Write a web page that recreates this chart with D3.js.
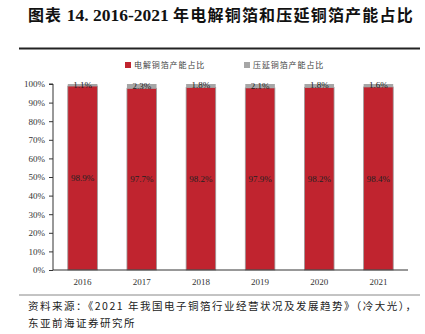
<!DOCTYPE html>
<html>
<head>
<meta charset="utf-8">
<script src="https://cdn.jsdelivr.net/npm/d3@7"></script>
<style>
  html, body { margin: 0; padding: 0; background: #fff; }
  svg { display: block; }
</style>
</head>
<body>
<svg id="chart" width="425" height="334"></svg>
<script>
// Capacity share data, 2016-2021
const years = ["2016", "2017", "2018", "2019", "2020", "2021"];
const electrolytic = [98.9, 97.7, 98.2, 97.9, 98.2, 98.4];
const rolled = [1.1, 2.3, 1.8, 2.1, 1.8, 1.6];
const seriesNames = ["电解铜箔产能占比", "压延铜箔产能占比"];
const yTicks = [0, 10, 20, 30, 40, 50, 60, 70, 80, 90, 100];

const RED = "#C0242F";
const GRAY = "#A6A6A6";
const serif = "'Liberation Serif', 'Times New Roman', serif";
const cjk = "'Noto Sans CJK SC', sans-serif";

const svg = d3.select("#chart");

// Title
const title = svg.append("text")
  .attr("x", 28).attr("y", 21)
  .attr("font-size", 16).attr("font-weight", "bold")
  .attr("fill", "#111");
title.append("tspan").attr("font-family", cjk).attr("letter-spacing", 1).text("图表 ");
title.append("tspan").attr("font-family", serif).attr("font-size", 17.5).text("14. 2016-2021 ");
title.append("tspan").attr("font-family", cjk).attr("letter-spacing", 1.2).text("年电解铜箔和压延铜箔产能占比");

// Rules above and below the chart
svg.append("line").attr("x1", 19).attr("x2", 420).attr("y1", 48.5).attr("y2", 48.5)
  .attr("stroke", "#222").attr("stroke-width", 2);
svg.append("line").attr("x1", 19).attr("x2", 420).attr("y1", 295).attr("y2", 295)
  .attr("stroke", "#888").attr("stroke-width", 1);

// Scales
const margin = { left: 53, right: 17, top: 84, bottom: 64 };
const x = d3.scaleBand().domain(years).range([margin.left, 408]).paddingInner(0.5).paddingOuter(0.25);
const y = d3.scaleLinear().domain([0, 100]).range([270, 84]);

// Stacked data
const rows = years.map((yr, i) => ({ year: yr, e: electrolytic[i], r: rolled[i] }));
const stack = d3.stack().keys(["e", "r"])(rows);
const colors = [RED, GRAY];

const g = svg.append("g");
stack.forEach((layer, li) => {
  g.selectAll(null).data(layer).enter().append("rect")
    .attr("x", d => x(d.data.year))
    .attr("width", x.bandwidth())
    .attr("y", d => y(d[1]))
    .attr("height", d => y(d[0]) - y(d[1]))
    .attr("fill", colors[li])
    .attr("stroke", "#9a9a9a")
    .attr("stroke-width", li === 0 ? 0.8 : 0);
});

// Value labels
g.selectAll(null).data(rows).enter().append("text")
  .attr("x", d => x(d.year) + x.bandwidth() / 2)
  .attr("y", d => y(d.e / 2))
  .attr("dy", "0.35em")
  .attr("text-anchor", "middle")
  .attr("font-family", serif).attr("font-size", 9).attr("fill", "#222")
  .text(d => d.e.toFixed(1) + "%");
g.selectAll(null).data(rows).enter().append("text")
  .attr("x", d => x(d.year) + x.bandwidth() / 2)
  .attr("y", d => y(d.e + d.r / 2))
  .attr("dy", "0.3em")
  .attr("text-anchor", "middle")
  .attr("font-family", serif).attr("font-size", 9).attr("fill", "#222")
  .text(d => d.r.toFixed(1) + "%");

// Y axis
const yAxis = d3.axisLeft(y).tickValues(yTicks).tickFormat(d => d + "%").tickSize(4).tickPadding(4);
const ya = svg.append("g").attr("transform", `translate(${margin.left},0)`).call(yAxis);
ya.select(".domain").attr("stroke", "#333").attr("d", `M-4,${y(100)}H0V${y(0)}`);
ya.selectAll(".tick line").attr("stroke", "#333");
ya.selectAll(".tick text").attr("font-family", serif).attr("font-size", 9).attr("fill", "#333");

// X axis
const xAxis = d3.axisBottom(x).tickSize(0).tickPadding(9);
const xa = svg.append("g").attr("transform", `translate(0,${y(0)})`).call(xAxis);
xa.select(".domain").attr("stroke", "#333").attr("d", `M${margin.left},0H408`);
xa.selectAll(".tick text").attr("font-family", serif).attr("font-size", 9).attr("fill", "#333");

// Legend
const legendX = [125, 244];
seriesNames.forEach((name, i) => {
  svg.append("rect").attr("x", legendX[i]).attr("y", 62).attr("width", 6).attr("height", 6)
    .attr("fill", colors[i]);
  svg.append("text").attr("x", legendX[i] + 9).attr("y", 65).attr("dy", "0.35em")
    .attr("font-family", cjk).attr("font-size", 8).attr("letter-spacing", 0.9).attr("fill", "#444")
    .text(name);
});

// Source note
const note = svg.append("g").attr("font-family", cjk).attr("font-size", 10.5)
  .attr("letter-spacing", 1.5).attr("fill", "#222");
note.append("text").attr("x", 28).attr("y", 310).text("资料来源：《2021 年我国电子铜箔行业经营状况及发展趋势》（冷大光），");
note.append("text").attr("x", 28).attr("y", 327).text("东亚前海证券研究所");
</script>
</body>
</html>
